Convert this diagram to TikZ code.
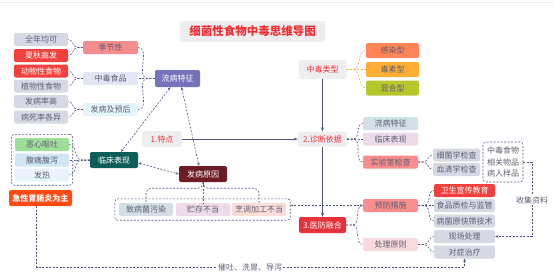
\documentclass[tikz,border=0pt]{standalone}
\usepackage{fontspec}
\setmainfont{Noto Sans CJK SC}
\usetikzlibrary{arrows.meta,fit}
\definecolor{lnk}{HTML}{4F547F}\definecolor{tx}{HTML}{5C5F73}\definecolor{hot}{HTML}{EE3034}
\definecolor{lg}{HTML}{D6D9E3}\definecolor{rd}{HTML}{F2413D}\definecolor{pale}{HTML}{EEEEF0}
\tikzset{
 bx/.style={rounded corners=2pt,inner sep=0pt,minimum height=13pt,font=\fontsize{8}{9}\selectfont,text=tx},
 leaf/.style={bx,fill=lg},
 hotleaf/.style={bx,fill=rd,text=white},
 key/.style={bx,fill=pale,text=hot},
 link/.style={draw=lnk,line width=.6pt,dash pattern=on 2pt off 1.5pt},
 main/.style={draw=lnk,line width=.8pt,-{Stealth[length=4pt,width=3pt]}},
 ar/.style={-{Stealth[length=3pt,width=2.6pt]}},
 tw/.style={{Stealth[length=3pt,width=2.6pt]}-{Stealth[length=3pt,width=2.6pt]}},
 dbox/.style={draw=lnk,line width=.6pt,dash pattern=on 2pt off 1.5pt,rounded corners=3pt}
}
\begin{document}
\begin{tikzpicture}[x=1pt,y=-1pt]
\useasboundingbox (0,0) rectangle (554,277);
\draw[line width=.4pt,black!8] (0,2)--(554,2);
\node[key,minimum width=145pt,minimum height=21pt,font=\fontsize{11.5}{12}\selectfont\bfseries] (title) at (252.5,31.5) {细菌性食物中毒思维导图};
\foreach \n/\y/\t/\s in {qn/39.5/全年均可/leaf,xq/55.5/夏秋高发/hotleaf,dw/71/动物性食物/hotleaf,zw/86/植物性食物/leaf,fbl/101.5/发病率高/leaf,bsl/117/病死率各异/leaf}{\node[\s,minimum width=54pt] (\n) at (41,\y) {\t};}
\foreach \n/\y/\t/\f in {jjx/47.5/季节性/F58D8E,zdsp/78.5/中毒食品/E3E5F4,fbyh/109.5/发病及预后/E4F4FC}{\definecolor{ff}{HTML}{\f}\node[bx,fill=ff,minimum width=55pt] (\n) at (110.5,\y) {\t};}
\node[bx,fill={rgb,255:red,116;green,114;blue,185},text=white,minimum width=45pt,minimum height=17pt] (lbtz) at (177.5,78.5) {流病特征};
\node[bx,fill={rgb,255:red,14;green,94;blue,88},text=white,minimum width=48pt,minimum height=16pt] (lcbx) at (114,160) {临床表现};
\node[bx,fill={rgb,255:red,107;green,28;blue,37},text=white,minimum width=48pt,minimum height=16pt] (fbyy) at (203,174) {发病原因};
\node[key,minimum width=40pt,minimum height=16pt] (td) at (162,139) {1.特点};
\node[key,minimum width=49pt,minimum height=15pt] (zdyj) at (322.5,139) {2.诊断依据};
\node[key,minimum width=48pt,minimum height=19pt] (zdlx) at (322.5,69.5) {中毒类型};
\node[bx,fill={rgb,255:red,228;green,49;blue,58},text=white,minimum width=47pt,minimum height=16pt] (yfrh) at (322.5,225) {3.医防融合};
\foreach \n/\y/\t/\f in {gr/50.5/感染型/FF8456,ds/69.5/毒素型/FFAD35,hh/88/混合型/B6C62C}{\definecolor{ff}{HTML}{\f}\node[bx,fill=ff,minimum width=53pt,minimum height=15pt] (\n) at (392.5,\y) {\t};}
\foreach \n/\y/\t/\f in {rlb/123.5/流病特征/D1DFE6,rlc/139/临床表现/ECDAE6,sys/162/实验室检查/F98C8C,yfcs/205.5/预防措施/F98E8E,clyz/244.5/处理原则/F9D9DE}{\definecolor{ff}{HTML}{\f}\node[bx,fill=ff,minimum width=55pt] (\n) at (390.5,\y) {\t};}
\node[leaf,minimum width=47pt] (xj) at (456.5,155) {细菌学检查};\node[leaf,minimum width=47pt] (xqx) at (456.5,169.5) {血清学检查};
\foreach \n/\y/\t/\s in {ws/190.5/卫生宣传教育/hotleaf,zj/205.5/食品质检与监管/leaf,kx/221/病菌原快筛技术/leaf,xccl/236.5/现场处理/leaf,dzzl/252/对症治疗/leaf}{\node[\s,minimum width=61pt] (\n) at (464.5,\y) {\t};}
\node[dbox,minimum width=40pt,minimum height=40pt,inner sep=0pt,align=center,font=\fontsize{8}{11.5}\selectfont,text=tx] (yp) at (503,162) {中毒食物\\相关物品\\病人样品};
\node[font=\fontsize{8}{9}\selectfont,text=tx,fill=white,inner sep=1pt] (sjzl) at (532,200) {收集资料};
\node[font=\fontsize{8}{9}\selectfont,text=tx,fill=white,inner sep=1pt] (ctxw) at (250,267) {催吐、洗胃、导泻};
\foreach \n/\y/\t/\f in {ex/144.5/恶心呕吐/9FDE9A,ft/160/腹痛腹泻/CFE6F5,fr/175/发热/E7F4FC}{\definecolor{ff}{HTML}{\f}\node[bx,fill=ff,minimum width=54pt] (\n) at (42,\y) {\t};}
\node[bx,fill={rgb,255:red,255;green,76;blue,22},text=white,minimum width=63pt,minimum height=16pt,font=\fontsize{8}{9}\selectfont\bfseries] (jxwc) at (40.5,198) {急性胃肠炎为主};
\node[dbox,fit=(ex)(fr),inner sep=3.5pt] (zzbox) {};
\foreach \n/\x/\t/\f in {zbj/146/致病菌污染/D3DFE5,zcbd/203/贮存不当/EEDBE7,prjg/259/烹调加工不当/FCDCD8}{\definecolor{ff}{HTML}{\f}\node[bx,fill=ff,minimum width=54pt] (\n) at (\x,209.5) {\t};}
\node[dbox,fit=(zbj)(prjg),inner sep=4pt] (ybbox) {};
\foreach \p/\c/\d in {jjx/qn/5,jjx/xq/5,zdsp/dw/5,zdsp/zw/5,fbyh/fbl/5,fbyh/bsl/5,lbtz/jjx/7,lbtz/zdsp/7,lbtz/fbyh/7,lcbx/ex/8,lcbx/ft/8,lcbx/fr/8}{\draw[link] (\p.west) -- ++(-\d,0) to[out=180,in=0] (\c.east);}
\foreach \p/\c/\d in {zdyj/rlb/6,zdyj/rlc/6,zdyj/sys/6,yfrh/yfcs/6,yfrh/clyz/6,sys/xj/5,sys/xqx/5,yfcs/ws/6,yfcs/zj/6,yfcs/kx/6,clyz/xccl/6,clyz/dzzl/6}{\draw[link] (\p.east) -- ++(\d,0) to[out=0,in=180] (\c.west);}
\foreach \c/\f in {gr/F5926A,ds/F7B24A,hh/C3CE52}{\definecolor{ff}{HTML}{\f}\draw[link,draw=ff] (zdlx.east) -- ++(6,0) to[out=0,in=180] (\c.west);}
\draw[link,tw] ([xshift=-7pt]lbtz.south) -- ([xshift=7pt]lcbx.north);
\draw[link,tw] ([xshift=4pt]lbtz.south) -- ([xshift=-4pt]fbyy.north);
\draw[link,tw] ([yshift=-3pt]lcbx.east) -- (fbyy.west);
\draw[main] (td.east) -- (zdyj.west);\draw[main] (zdlx.south) -- (zdyj.north);\draw[main] (zdyj.south) -- (yfrh.north);
\foreach \c in {zbj,zcbd,prjg}{\draw[link,rounded corners=5pt] (fbyy.south) -- ++(0,6) -| (\c.north);}
\draw[link,ar] (ybbox.east|-yfcs.west) -- (yfcs.west);
\draw[link] ([xshift=-4pt]jxwc.south) |- (ctxw.west);\draw[link,ar] (ctxw.east) -| (dzzl.south);
\draw[link] (yp.east) -| (sjzl.north);\draw[link,ar] (sjzl.south) |- (xccl.east);
\end{tikzpicture}
\end{document}
